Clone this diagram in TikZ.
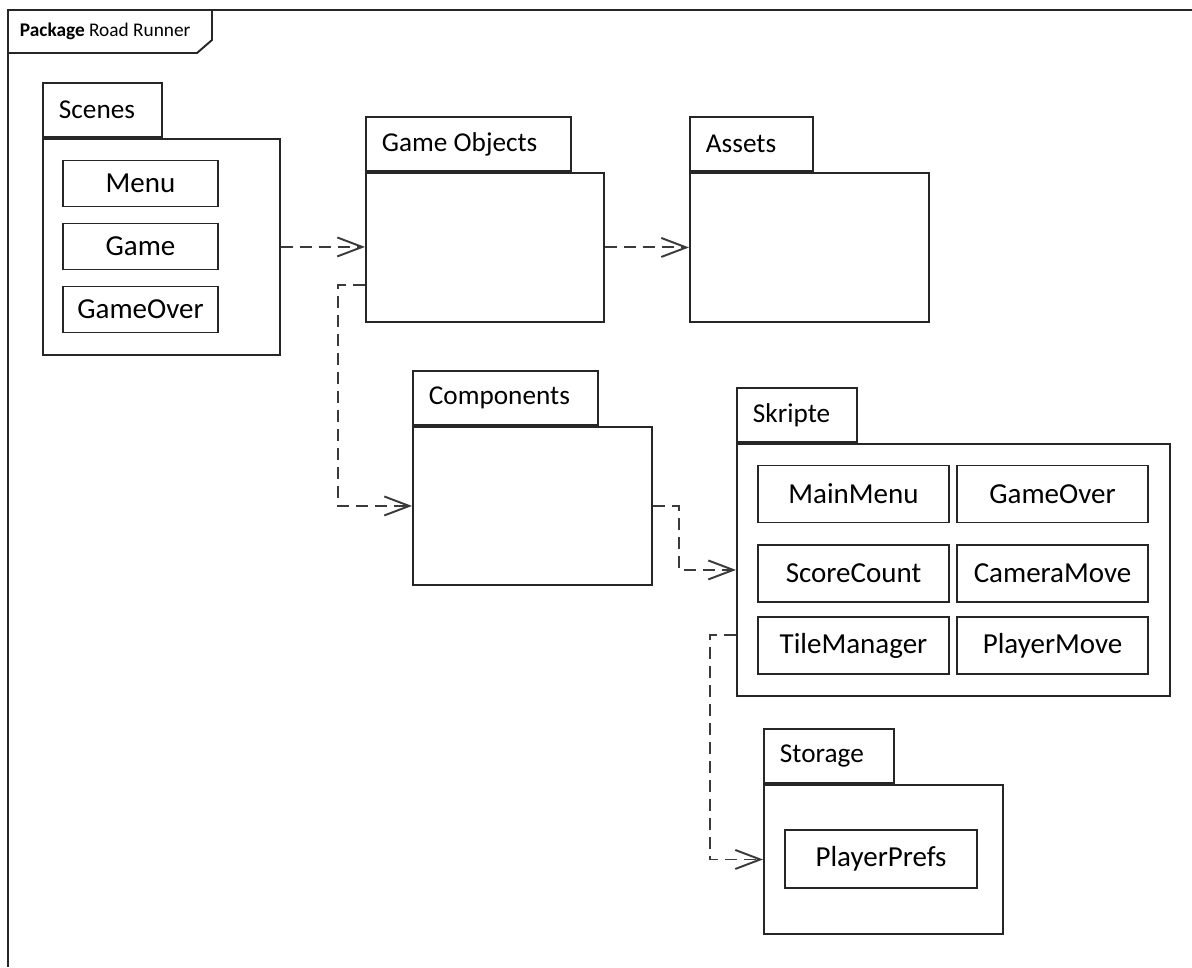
\documentclass[tikz,border=0pt]{standalone}
\usepackage{fontspec}
\setmainfont{Carlito}
\usepackage{xcolor}
\usepackage{tikz}
\usetikzlibrary{arrows.meta,positioning,calc}
\definecolor{umlline}{HTML}{262626}
\definecolor{depline}{HTML}{3A3A3A}

\begin{document}
\begin{tikzpicture}[x=0.02cm,y=-0.02cm,line width=1.1pt,
  pkgbody/.style={draw=umlline,anchor=north west,inner sep=0pt},
  pkgtab/.style={draw=umlline,anchor=south west,inner xsep=0.32cm,inner ysep=0pt,minimum height=1.08cm,align=flush left,font=\fontsize{15.5}{18}\selectfont},
  sceneitem/.style={draw=umlline,minimum width=3.1cm,minimum height=0.92cm,font=\fontsize{16.5}{20}\selectfont},
  scriptitem/.style={draw=umlline,minimum width=3.82cm,minimum height=1.14cm,font=\fontsize{16.5}{20}\selectfont},
  dep/.style={depline,dash pattern=on 0.24cm off 0.14cm,-{Straight Barb[length=0.5cm,width=0.38cm]}}]
\useasboundingbox (0,0) rectangle (1192,967);
% outer package frame
\draw[umlline] (8,967) -- (8,10) -- (1192,10);
\node[anchor=west,inner sep=0pt,font=\fontsize{11}{13}\selectfont] (pkgname) at (19,31) {\textbf{Package} Road Runner};
\draw[umlline] (8,53) -- (197,53) -- (212,40) -- (212,10);
% packages
\node[pkgbody,minimum width=4.74cm,minimum height=4.32cm] (scenes) at (42,138) {};
\node[pkgtab,text width=1.74cm] (scenesT) at (scenes.north west) {Scenes};
\node[sceneitem] (menu) at (140.5,183.5) {Menu};
\node[sceneitem] (game) at (140.5,246.5) {Game};
\node[sceneitem] (gameover) at (140.5,309.5) {GameOver};
\node[pkgbody,minimum width=4.76cm,minimum height=2.98cm] (gobj) at (365,172) {};
\node[pkgtab,text width=3.46cm] (gobjT) at (gobj.north west) {Game Objects};
\node[pkgbody,minimum width=4.78cm,minimum height=2.98cm] (assets) at (689,172) {};
\node[pkgtab,text width=1.82cm] (assetsT) at (assets.north west) {Assets};
\node[pkgbody,minimum width=4.78cm,minimum height=3.16cm] (comp) at (412,426) {};
\node[pkgtab,text width=3.06cm] (compT) at (comp.north west) {Components};
\node[pkgbody,minimum width=8.66cm,minimum height=5.04cm] (skripte) at (736,443) {};
\node[pkgtab,text width=1.76cm] (skripteT) at (skripte.north west) {Skripte};
\node[scriptitem] (mainmenu) at (853.5,494) {MainMenu};
\node[scriptitem] (sgameover) at (1052.5,494) {GameOver};
\node[scriptitem] (scorecount) at (853.5,573.5) {ScoreCount};
\node[scriptitem] (cameramove) at (1052.5,573.5) {CameraMove};
\node[scriptitem] (tilemanager) at (853.5,645.5) {TileManager};
\node[scriptitem] (playermove) at (1052.5,645.5) {PlayerMove};
\node[pkgbody,minimum width=4.78cm,minimum height=2.98cm] (storage) at (763,784) {};
\node[pkgtab,text width=1.96cm] (storageT) at (storage.north west) {Storage};
\node[scriptitem,minimum height=1.16cm,minimum width=3.84cm] (prefs) at (881,859) {PlayerPrefs};
% dependencies
\draw[dep] (scenes.east) -- (scenes.east -| gobj.west);
\draw[dep] (gobj.east) -- (gobj.east -| assets.west);
\draw[dep] ([yshift=0.76cm]gobj.south west) -- ++(-0.54cm,0) |- (comp.west);
\draw[dep] (comp.east) -- ++(0.52cm,0) |- (skripte.west);
\draw[dep] ([yshift=1.24cm]skripte.south west) -- ++(-0.52cm,0) |- (storage.west);
\end{tikzpicture}
\end{document}
